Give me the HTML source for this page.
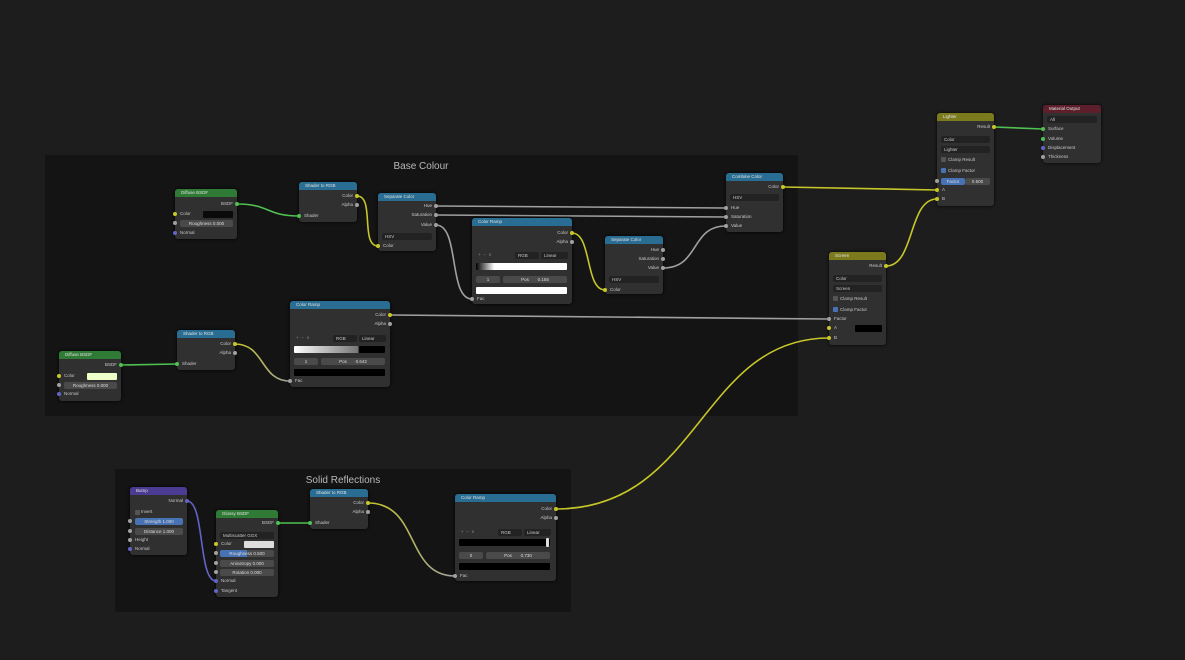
<!DOCTYPE html>
<html><head><meta charset="utf-8"><style>
body{margin:0;width:1185px;height:660px;background:#1d1d1d;overflow:hidden;position:relative;font-family:"Liberation Sans",sans-serif}
.f{position:absolute;background:#141414}
.ft{position:absolute;color:#b8b8b8;font-size:10px;transform:translateX(-50%)}
.n{position:absolute;background:#303030;border-radius:3px;box-shadow:0 0 3px #000}
.h{position:absolute;left:0;right:0;top:0;height:8px;border-radius:3px 3px 0 0;font-size:4.5px;color:#e0e0e0;line-height:8px;padding-left:6px;box-sizing:border-box}
.g{background:#2f7a34}.b{background:#2a6d92}.o{background:#7b7b1e}.m{background:#5c1f2b}.p{background:#4b3b92}
.l{position:absolute;font-size:4.5px;color:#c8c8c8;line-height:6px;white-space:nowrap}
.r{text-align:right}
.s{position:absolute;width:4px;height:4px;border-radius:50%;margin:-2px 0 0 -2px}
.y{background:#c7c729}.gr{background:#a0a0a0}.gn{background:#4fc152}.pu{background:#6363c7}
.d{position:absolute;background:#222;border-radius:2px;height:7px;font-size:4.5px;color:#c8c8c8;line-height:7px;padding-left:3px;box-sizing:border-box}
.fl{position:absolute;background:#4a4a4a;border-radius:2px;height:7px;font-size:4.5px;color:#ddd;line-height:7px;text-align:center}
.bl{background:#4772b3}
.sw{position:absolute;border-radius:1px;height:7px}
.cb{position:absolute;width:5px;height:5px;background:#555;border-radius:1px}
.cb.on{background:#4772b3}
</style></head><body>
<div class="f" style="left:45px;top:155px;width:753px;height:261px"></div>
<div class="ft" style="left:421px;top:161px">Base Colour</div>
<div class="f" style="left:115px;top:469px;width:456px;height:143px"></div>
<div class="ft" style="left:343px;top:475px">Solid Reflections</div>

<svg width="1185" height="660" style="position:absolute;left:0;top:0" fill="none" stroke-width="1.6">
<defs>
<linearGradient id="g1" gradientUnits="userSpaceOnUse" x1="235" y1="0" x2="290" y2="0"><stop offset="0" stop-color="#c7c729"/><stop offset="1" stop-color="#a0a0a0"/></linearGradient>
<linearGradient id="g2" gradientUnits="userSpaceOnUse" x1="368" y1="0" x2="455" y2="0"><stop offset="0" stop-color="#c7c729"/><stop offset="1" stop-color="#a0a0a0"/></linearGradient>
<linearGradient id="g3" gradientUnits="userSpaceOnUse" x1="357" y1="0" x2="378" y2="0"><stop offset="0" stop-color="#c7c729"/><stop offset="1" stop-color="#c7c729"/></linearGradient>
</defs>
<path d="M237,204 C270,204 266,216 299,216" stroke="#4fc152"/>
<path d="M357,196 C375,196 360,246 378,246" stroke="#c7c729"/>
<path d="M436,206 L726,208" stroke="#a0a0a0"/>
<path d="M436,215 L726,217" stroke="#a0a0a0"/>
<path d="M436,225 C460,225 448,299 472,299" stroke="#a0a0a0"/>
<path d="M572,233 C592,233 585,290 605,290" stroke="#c7c729"/>
<path d="M663,268 C700,268 690,226 726,226" stroke="#a0a0a0"/>
<path d="M783,187 L937,190" stroke="#c7c729"/>
<path d="M994,127 L1043,129" stroke="#4fc152"/>
<path d="M886,266 C915,266 908,199 937,199" stroke="#c7c729"/>
<path d="M390,315 L829,319" stroke="#a0a0a0"/>
<path d="M556,509 C700,509 700,338 829,338" stroke="#c7c729"/>
<path d="M235,344 C265,344 260,381 290,381" stroke="url(#g1)"/>
<path d="M121,365 L177,364" stroke="#4fc152"/>
<path d="M187,501 C205,501 198,581 216,581" stroke="#6363c7"/>
<path d="M278,523 L310,523" stroke="#4fc152"/>
<path d="M368,503 C420,503 405,576 455,576" stroke="url(#g2)"/>
</svg>

<!-- Diffuse BSDF top -->
<div class="n" style="left:175px;top:189px;width:62px;height:50px"><div class="h g">Diffuse BSDF</div></div>
<div class="l r" style="left:200px;top:201px;width:33px">BSDF</div>
<div class="l" style="left:180px;top:211px">Color</div><div class="sw" style="left:203px;top:211px;width:30px;background:#0a0a0a"></div>
<div class="fl" style="left:180px;top:220px;width:53px">Roughness 0.000</div>
<div class="l" style="left:180px;top:230px">Normal</div>
<div class="s gn" style="left:237px;top:204px"></div><div class="s y" style="left:175px;top:214px"></div><div class="s gr" style="left:175px;top:223px"></div><div class="s pu" style="left:175px;top:233px"></div>

<!-- Shader to RGB -->
<div class="n" style="left:299px;top:182px;width:58px;height:40px"><div class="h b">Shader to RGB</div></div>
<div class="l r" style="left:320px;top:193px;width:33px">Color</div><div class="l r" style="left:320px;top:202px;width:33px">Alpha</div>
<div class="l" style="left:304px;top:213px">Shader</div>
<div class="s y" style="left:357px;top:196px"></div><div class="s gr" style="left:357px;top:205px"></div><div class="s gn" style="left:299px;top:216px"></div>

<!-- Separate Color -->
<div class="n" style="left:378px;top:193px;width:58px;height:58px"><div class="h b">Separate Color</div></div>
<div class="l r" style="left:390px;top:203px;width:42px">Hue</div><div class="l r" style="left:390px;top:212px;width:42px">Saturation</div><div class="l r" style="left:390px;top:222px;width:42px">Value</div>
<div class="d" style="left:382px;top:233px;width:50px">HSV</div>
<div class="l" style="left:383px;top:243px">Color</div>
<div class="s gr" style="left:436px;top:206px"></div><div class="s gr" style="left:436px;top:215px"></div><div class="s gr" style="left:436px;top:225px"></div><div class="s y" style="left:378px;top:246px"></div>

<!-- Color Ramp 1 -->
<div class="n" style="left:472px;top:218px;width:100px;height:86px"><div class="h b">Color Ramp</div></div>
<div class="l r" style="left:520px;top:230px;width:48px">Color</div><div class="l r" style="left:520px;top:239px;width:48px">Alpha</div>
<div class="l" style="left:478px;top:252px;color:#888">+ &nbsp;− &nbsp;∨</div><div class="d" style="left:515px;top:252px;width:24px">RGB</div><div class="d" style="left:541px;top:252px;width:27px">Linear</div>
<div class="sw" style="left:476px;top:263px;width:91px;height:7px;background:linear-gradient(90deg,#000 0%,#fff 20%,#fff)"></div>
<div class="fl" style="left:476px;top:276px;width:24px">1</div><div class="fl" style="left:503px;top:276px;width:64px">Pos &nbsp; &nbsp; &nbsp; 0.155</div>
<div class="sw" style="left:476px;top:287px;width:91px;background:#fff"></div>
<div class="l" style="left:477px;top:296px">Fac</div>
<div class="s y" style="left:572px;top:233px"></div><div class="s gr" style="left:572px;top:242px"></div><div class="s gr" style="left:472px;top:299px"></div>

<!-- Separate Color 2 -->
<div class="n" style="left:605px;top:236px;width:58px;height:58px"><div class="h b">Separate Color</div></div>
<div class="l r" style="left:617px;top:247px;width:42px">Hue</div><div class="l r" style="left:617px;top:256px;width:42px">Saturation</div><div class="l r" style="left:617px;top:265px;width:42px">Value</div>
<div class="d" style="left:609px;top:276px;width:50px">HSV</div>
<div class="l" style="left:610px;top:287px">Color</div>
<div class="s gr" style="left:663px;top:250px"></div><div class="s gr" style="left:663px;top:259px"></div><div class="s gr" style="left:663px;top:268px"></div><div class="s y" style="left:605px;top:290px"></div>

<!-- Combine Color -->
<div class="n" style="left:726px;top:173px;width:57px;height:59px"><div class="h b">Combine Color</div></div>
<div class="l r" style="left:740px;top:184px;width:39px">Color</div>
<div class="d" style="left:730px;top:194px;width:49px">HSV</div>
<div class="l" style="left:731px;top:205px">Hue</div><div class="l" style="left:731px;top:214px">Saturation</div><div class="l" style="left:731px;top:223px">Value</div>
<div class="s y" style="left:783px;top:187px"></div><div class="s gr" style="left:726px;top:208px"></div><div class="s gr" style="left:726px;top:217px"></div><div class="s gr" style="left:726px;top:226px"></div>

<!-- Color Ramp 2 -->
<div class="n" style="left:290px;top:301px;width:100px;height:86px"><div class="h b">Color Ramp</div></div>
<div class="l r" style="left:338px;top:312px;width:48px">Color</div><div class="l r" style="left:338px;top:321px;width:48px">Alpha</div>
<div class="l" style="left:296px;top:335px;color:#888">+ &nbsp;− &nbsp;∨</div><div class="d" style="left:333px;top:335px;width:24px">RGB</div><div class="d" style="left:359px;top:335px;width:27px">Linear</div>
<div class="sw" style="left:294px;top:346px;width:91px;height:7px;background:linear-gradient(90deg,#fff 0%,#777 70%,#000 72%,#000)"></div>
<div class="fl" style="left:294px;top:358px;width:24px">1</div><div class="fl" style="left:321px;top:358px;width:64px">Pos &nbsp; &nbsp; &nbsp; 0.642</div>
<div class="sw" style="left:294px;top:369px;width:91px;background:#000"></div>
<div class="l" style="left:295px;top:378px">Fac</div>
<div class="s y" style="left:390px;top:315px"></div><div class="s gr" style="left:390px;top:324px"></div><div class="s gr" style="left:290px;top:381px"></div>

<!-- Shader to RGB 2 -->
<div class="n" style="left:177px;top:330px;width:58px;height:40px"><div class="h b">Shader to RGB</div></div>
<div class="l r" style="left:198px;top:341px;width:33px">Color</div><div class="l r" style="left:198px;top:350px;width:33px">Alpha</div>
<div class="l" style="left:182px;top:361px">Shader</div>
<div class="s y" style="left:235px;top:344px"></div><div class="s gr" style="left:235px;top:353px"></div><div class="s gn" style="left:177px;top:364px"></div>

<!-- Diffuse BSDF 2 -->
<div class="n" style="left:59px;top:351px;width:62px;height:50px"><div class="h g">Diffuse BSDF</div></div>
<div class="l r" style="left:84px;top:362px;width:33px">BSDF</div>
<div class="l" style="left:64px;top:373px">Color</div><div class="sw" style="left:87px;top:373px;width:30px;background:#eeffc8"></div>
<div class="fl" style="left:64px;top:382px;width:53px">Roughness 0.000</div>
<div class="l" style="left:64px;top:391px">Normal</div>
<div class="s gn" style="left:121px;top:365px"></div><div class="s y" style="left:59px;top:376px"></div><div class="s gr" style="left:59px;top:385px"></div><div class="s pu" style="left:59px;top:394px"></div>

<!-- Lighter -->
<div class="n" style="left:937px;top:113px;width:57px;height:93px"><div class="h o">Lighter</div></div>
<div class="l r" style="left:950px;top:124px;width:40px">Result</div>
<div class="d" style="left:941px;top:136px;width:49px">Color</div>
<div class="d" style="left:941px;top:146px;width:49px">Lighter</div>
<div class="cb" style="left:941px;top:157px"></div><div class="l" style="left:948px;top:157px">Clamp Result</div>
<div class="cb on" style="left:941px;top:168px"></div><div class="l" style="left:948px;top:168px">Clamp Factor</div>
<div class="fl bl" style="left:941px;top:178px;width:24px">Factor</div><div class="fl" style="left:965px;top:178px;width:25px">0.500</div>
<div class="l" style="left:942px;top:187px">A</div><div class="l" style="left:942px;top:196px">B</div>
<div class="s y" style="left:994px;top:127px"></div><div class="s gr" style="left:937px;top:181px"></div><div class="s y" style="left:937px;top:190px"></div><div class="s y" style="left:937px;top:199px"></div>

<!-- Material Output -->
<div class="n" style="left:1043px;top:105px;width:58px;height:58px"><div class="h m">Material Output</div></div>
<div class="d" style="left:1047px;top:116px;width:50px">All</div>
<div class="l" style="left:1048px;top:126px">Surface</div><div class="l" style="left:1048px;top:136px">Volume</div><div class="l" style="left:1048px;top:145px">Displacement</div><div class="l" style="left:1048px;top:154px">Thickness</div>
<div class="s gn" style="left:1043px;top:129px"></div><div class="s gn" style="left:1043px;top:139px"></div><div class="s pu" style="left:1043px;top:148px"></div><div class="s gr" style="left:1043px;top:157px"></div>

<!-- Screen -->
<div class="n" style="left:829px;top:252px;width:57px;height:93px"><div class="h o">Screen</div></div>
<div class="l r" style="left:842px;top:263px;width:40px">Result</div>
<div class="d" style="left:833px;top:275px;width:49px">Color</div>
<div class="d" style="left:833px;top:285px;width:49px">Screen</div>
<div class="cb" style="left:833px;top:296px"></div><div class="l" style="left:840px;top:296px">Clamp Result</div>
<div class="cb on" style="left:833px;top:307px"></div><div class="l" style="left:840px;top:307px">Clamp Factor</div>
<div class="l" style="left:834px;top:316px">Factor</div><div class="l" style="left:834px;top:325px">A</div><div class="sw" style="left:855px;top:325px;width:27px;background:#000"></div><div class="l" style="left:834px;top:335px">B</div>
<div class="s y" style="left:886px;top:266px"></div><div class="s gr" style="left:829px;top:319px"></div><div class="s y" style="left:829px;top:328px"></div><div class="s y" style="left:829px;top:338px"></div>

<!-- Bump -->
<div class="n" style="left:130px;top:487px;width:57px;height:68px"><div class="h p">Bump</div></div>
<div class="l r" style="left:145px;top:498px;width:38px">Normal</div>
<div class="cb" style="left:135px;top:510px"></div><div class="l" style="left:141px;top:509px">Invert</div>
<div class="fl bl" style="left:135px;top:518px;width:48px">Strength 1.000</div>
<div class="fl" style="left:135px;top:528px;width:48px">Distance 1.000</div>
<div class="l" style="left:135px;top:537px">Height</div><div class="l" style="left:135px;top:546px">Normal</div>
<div class="s pu" style="left:187px;top:501px"></div><div class="s gr" style="left:130px;top:521px"></div><div class="s gr" style="left:130px;top:531px"></div><div class="s gr" style="left:130px;top:540px"></div><div class="s pu" style="left:130px;top:549px"></div>

<!-- Glossy BSDF -->
<div class="n" style="left:216px;top:510px;width:62px;height:87px"><div class="h g">Glossy BSDF</div></div>
<div class="l r" style="left:240px;top:520px;width:34px">BSDF</div>
<div class="d" style="left:220px;top:532px;width:54px">Multiscatter GGX</div>
<div class="l" style="left:221px;top:541px">Color</div><div class="sw" style="left:244px;top:541px;width:30px;background:#ddd"></div>
<div class="fl" style="left:220px;top:550px;width:54px;background:linear-gradient(90deg,#4772b3 0,#4772b3 50%,#4a4a4a 50%)">Roughness 0.500</div>
<div class="fl" style="left:220px;top:560px;width:54px">Anisotropy 0.000</div>
<div class="fl" style="left:220px;top:569px;width:54px">Rotation 0.000</div>
<div class="l" style="left:221px;top:578px">Normal</div><div class="l" style="left:221px;top:588px">Tangent</div>
<div class="s gn" style="left:278px;top:523px"></div><div class="s y" style="left:216px;top:544px"></div><div class="s gr" style="left:216px;top:553px"></div><div class="s gr" style="left:216px;top:563px"></div><div class="s gr" style="left:216px;top:572px"></div><div class="s pu" style="left:216px;top:581px"></div><div class="s pu" style="left:216px;top:591px"></div>

<!-- Shader to RGB 3 -->
<div class="n" style="left:310px;top:489px;width:58px;height:40px"><div class="h b">Shader to RGB</div></div>
<div class="l r" style="left:331px;top:500px;width:33px">Color</div><div class="l r" style="left:331px;top:509px;width:33px">Alpha</div>
<div class="l" style="left:315px;top:520px">Shader</div>
<div class="s y" style="left:368px;top:503px"></div><div class="s gr" style="left:368px;top:512px"></div><div class="s gn" style="left:310px;top:523px"></div>

<!-- Color Ramp 3 -->
<div class="n" style="left:455px;top:494px;width:101px;height:87px"><div class="h b">Color Ramp</div></div>
<div class="l r" style="left:504px;top:506px;width:48px">Color</div><div class="l r" style="left:504px;top:515px;width:48px">Alpha</div>
<div class="l" style="left:461px;top:529px;color:#888">+ &nbsp;− &nbsp;∨</div><div class="d" style="left:498px;top:529px;width:24px">RGB</div><div class="d" style="left:524px;top:529px;width:27px">Linear</div>
<div class="sw" style="left:459px;top:539px;width:91px;height:7px;background:#000"></div><div class="sw" style="left:546px;top:538px;width:3px;height:9px;background:#ddd"></div>
<div class="fl" style="left:459px;top:552px;width:24px">0</div><div class="fl" style="left:486px;top:552px;width:64px">Pos &nbsp; &nbsp; &nbsp; 0.730</div>
<div class="sw" style="left:459px;top:563px;width:91px;background:#000"></div>
<div class="l" style="left:460px;top:573px">Fac</div>
<div class="s y" style="left:556px;top:509px"></div><div class="s gr" style="left:556px;top:518px"></div><div class="s gr" style="left:455px;top:576px"></div>
</body></html>
